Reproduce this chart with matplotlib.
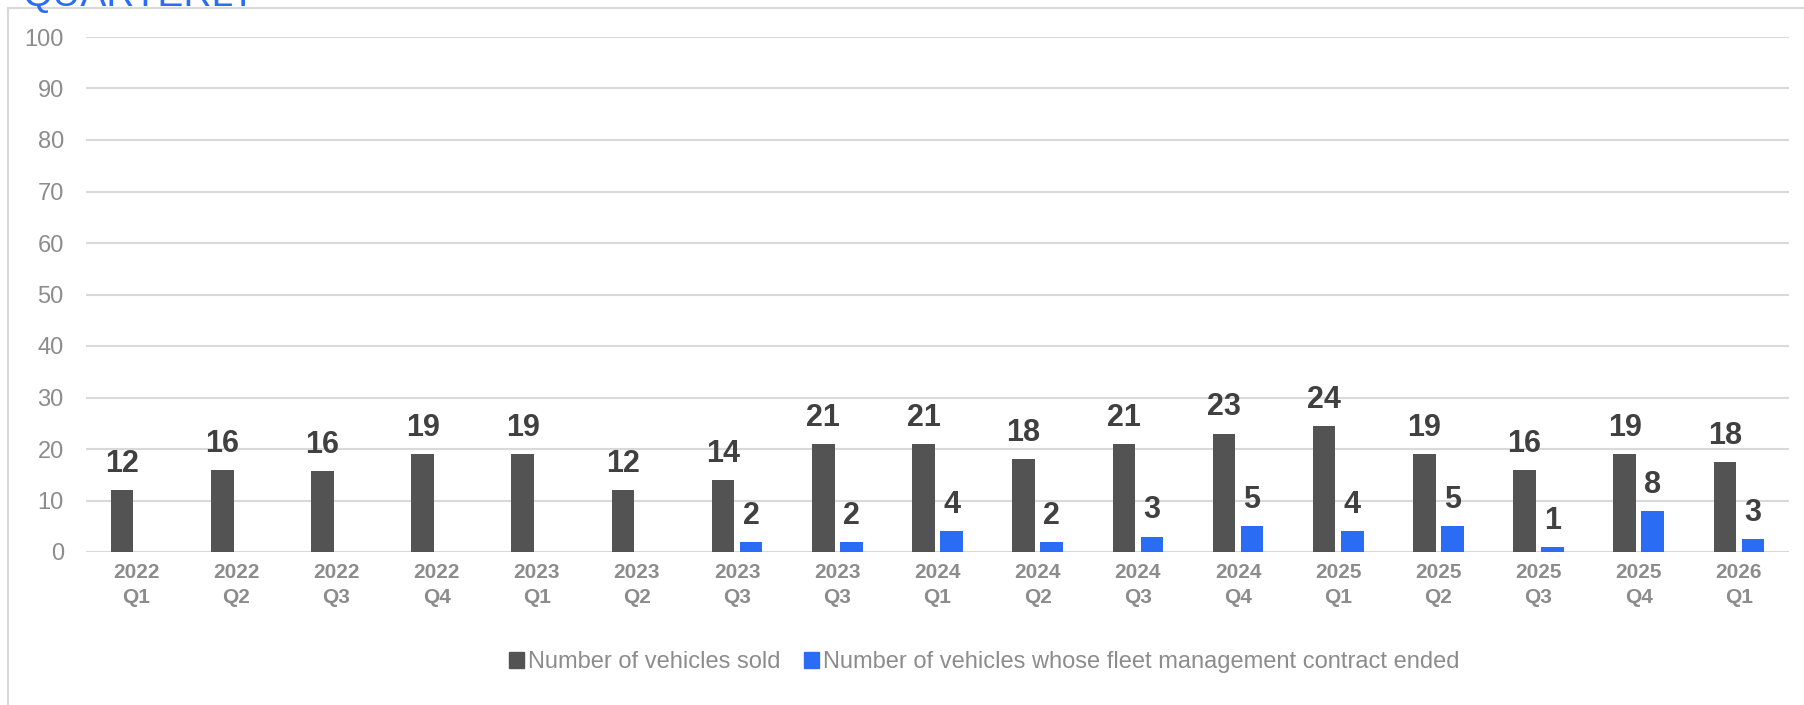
import numpy as np
import matplotlib.pyplot as plt
from matplotlib.patches import Patch
from matplotlib.lines import Line2D

plt.rcParams['font.family'] = ['Liberation Sans', 'DejaVu Sans']

quarters = ['2022\nQ1', '2022\nQ2', '2022\nQ3', '2022\nQ4', '2023\nQ1', '2023\nQ2',
            '2023\nQ3', '2023\nQ3', '2024\nQ1', '2024\nQ2', '2024\nQ3', '2024\nQ4',
            '2025\nQ1', '2025\nQ2', '2025\nQ3', '2025\nQ4', '2026\nQ1']
sold = [12, 16, 15.7, 19, 19, 12, 14, 21, 21, 18, 21, 23, 24.4, 19, 16, 19, 17.5]
ended = [np.nan, np.nan, np.nan, np.nan, np.nan, np.nan,
         2, 2, 4, 2, 3, 5, 4, 5, 1, 8, 2.5]

dark = '#535353'
blue = '#2b6cf4'
grey_txt = '#8c8c8c'
grid_c = '#d9d9d9'

fig = plt.figure(figsize=(18.04, 7.05), dpi=100)
ax = fig.add_axes([86/1804, 1 - 552/705, (1789 - 86)/1804, (552 - 37)/705])

x = np.arange(len(quarters))
w = 0.225
b1 = ax.bar(x - 0.14, sold, w, color=dark, zorder=3)
b2 = ax.bar(x + 0.14, ended, w, color=blue, zorder=3)

def label_bars(bars, vals):
    for rect, v in zip(bars, vals):
        if np.isnan(v):
            continue
        ax.annotate(str(int(v + 0.5)), (rect.get_x() + rect.get_width()/2, v),
                    xytext=(0, 13), textcoords='offset points',
                    ha='center', va='baseline', fontsize=22, fontweight='bold',
                    color='#404040')

label_bars(b1, sold)
label_bars(b2, ended)

ax.set_xlim(-0.5, len(quarters) - 0.5)
ax.set_ylim(0, 100)
ax.set_yticks(range(0, 101, 10))
ax.set_xticks(x)
ax.set_xticklabels(quarters, fontsize=15, fontweight='bold', color=grey_txt,
                   linespacing=1.4)
ax.tick_params(axis='y', length=0, pad=16, labelsize=17, labelcolor=grey_txt)
ax.tick_params(axis='x', length=0, pad=8)
ax.grid(axis='y', color=grid_c, linewidth=1.5, zorder=0)
for s in ax.spines.values():
    s.set_visible(False)

handles = [Patch(color=dark), Patch(color=blue)]
fig.legend(handles, ['Number of vehicles sold',
                     'Number of vehicles whose fleet management contract ended'],
           loc='center', bbox_to_anchor=(984/1804, 1 - 662/705), ncol=2,
           frameon=False, fontsize=17, labelcolor=grey_txt,
           handlelength=0.65, handleheight=0.65, handletextpad=0.15,
           columnspacing=1.0)

# chart frame and cut-off title
fig.add_artist(Line2D([8/1804, 1], [1 - 8/705, 1 - 8/705], color=grid_c, lw=1.5))
fig.add_artist(Line2D([8/1804, 8/1804], [0, 1 - 8/705], color=grid_c, lw=1.5))
fig.text(22/1804, 1 - 6/705, 'QUARTERLY', color=blue, fontsize=28, va='baseline')

fig.savefig('out.png', dpi=100)
